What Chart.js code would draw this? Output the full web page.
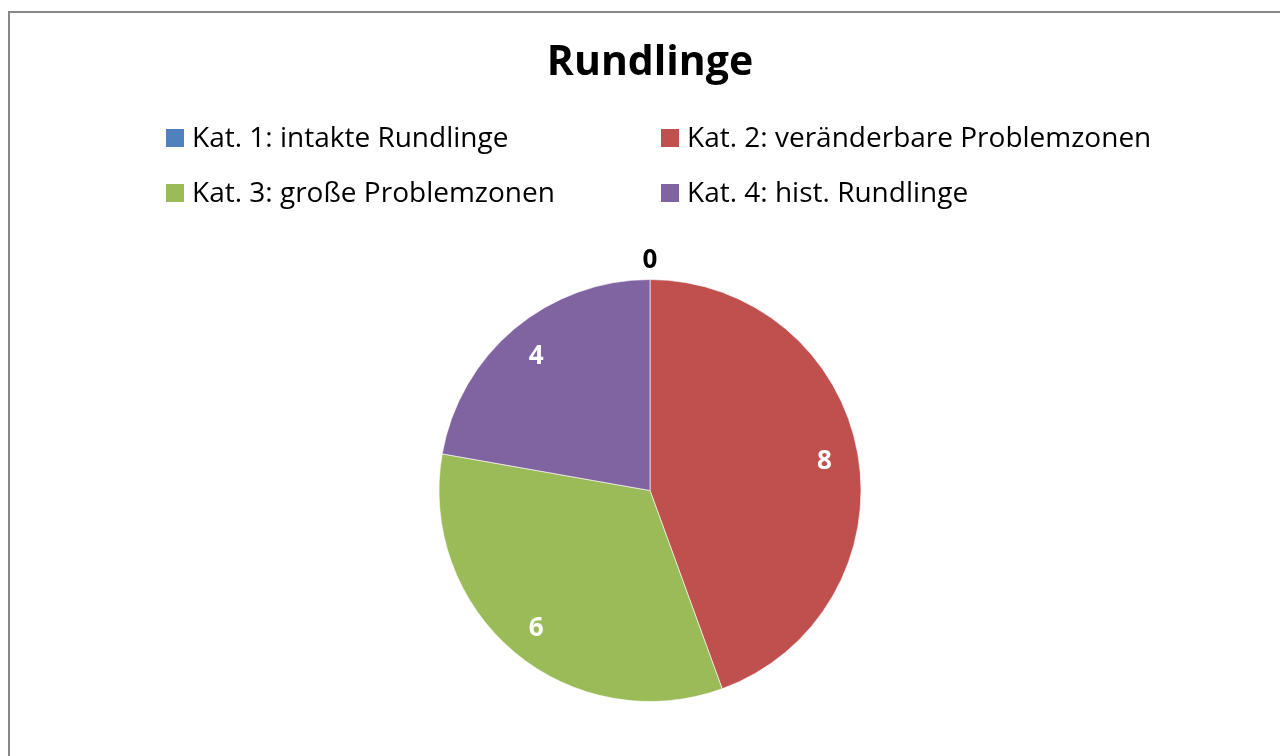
<!DOCTYPE html>
<html>
<head>
<meta charset="utf-8">
<script src="https://cdn.jsdelivr.net/npm/chart.js@4.4.1/dist/chart.umd.min.js"></script>
<style>
  html, body { margin: 0; padding: 0; background: #ffffff; }
  #frame { position: absolute; left: 8px; top: 11px; width: 1400px; height: 900px;
           border-top: 2px solid #888888; border-left: 2px solid #888888; box-sizing: border-box; }
  #wrap { position: absolute; left: 0; top: 0; width: 1280px; height: 756px; }
</style>
</head>
<body>
<div id="frame"></div>
<div id="wrap"><canvas id="c" width="1280" height="756"></canvas></div>
<script>
const titleText = 'Rundlinge';
const categories = [
  'Kat. 1: intakte Rundlinge',
  'Kat. 2: veränderbare Problemzonen',
  'Kat. 3: große Problemzonen',
  'Kat. 4: hist. Rundlinge'
];
const values = [0, 8, 6, 4];
const colors = ['#4F81BD', '#C0504D', '#9BBB59', '#8064A2'];

const FONT = '"Open Sans", "DejaVu Sans", sans-serif';

const gridLegend = {
  id: 'gridLegend',
  afterDraw(chart) {
    const ctx = chart.ctx;
    const ds = chart.data.datasets[0];
    const colX = [166, 661];
    const rowY = [147, 202];
    ctx.save();
    ctx.font = '28px ' + FONT;
    ctx.textBaseline = 'alphabetic';
    ctx.textAlign = 'left';
    chart.data.labels.forEach((lab, i) => {
      const x = colX[i % 2];
      const y = rowY[Math.floor(i / 2)];
      ctx.fillStyle = ds.backgroundColor[i];
      ctx.fillRect(x, y - 18, 18, 18);
      ctx.fillStyle = '#000000';
      ctx.fillText(lab, x + 26, y);
    });
    ctx.restore();
  }
};

const sliceLabels = {
  id: 'sliceLabels',
  afterDatasetsDraw(chart) {
    const ctx = chart.ctx;
    const meta = chart.getDatasetMeta(0);
    const data = chart.data.datasets[0].data;
    ctx.save();
    ctx.font = 'bold 26px ' + FONT;
    ctx.textAlign = 'center';
    ctx.textBaseline = 'alphabetic';
    meta.data.forEach((arc, i) => {
      const p = arc.getProps(['x', 'y', 'startAngle', 'endAngle', 'outerRadius']);
      const mid = (p.startAngle + p.endAngle) / 2;
      const v = data[i];
      let r, color;
      if (v === 0) { r = p.outerRadius + 21; color = '#000000'; }
      else { r = p.outerRadius * 0.84; color = '#ffffff'; }
      const x = p.x + Math.cos(mid) * r;
      const y = p.y + Math.sin(mid) * r;
      ctx.fillStyle = color;
      ctx.fillText(String(v), x, y + 9.5);
    });
    ctx.restore();
  }
};

new Chart(document.getElementById('c'), {
  type: 'pie',
  data: {
    labels: categories,
    datasets: [{
      data: values,
      backgroundColor: colors,
      borderColor: 'rgba(255,255,255,0.6)',
      borderWidth: 1
    }]
  },
  options: {
    responsive: false,
    animation: false,
    layout: { padding: { left: 20, right: 0, top: 0, bottom: 54 } },
    plugins: {
      legend: { display: false },
      tooltip: { enabled: false },
      title: {
        display: true,
        text: titleText,
        color: '#000000',
        font: { family: FONT, size: 41, weight: 'bold', lineHeight: 1.2 },
        padding: { top: 39, bottom: 190.8 }
      }
    }
  },
  plugins: [gridLegend, sliceLabels]
});
</script>
</body>
</html>
